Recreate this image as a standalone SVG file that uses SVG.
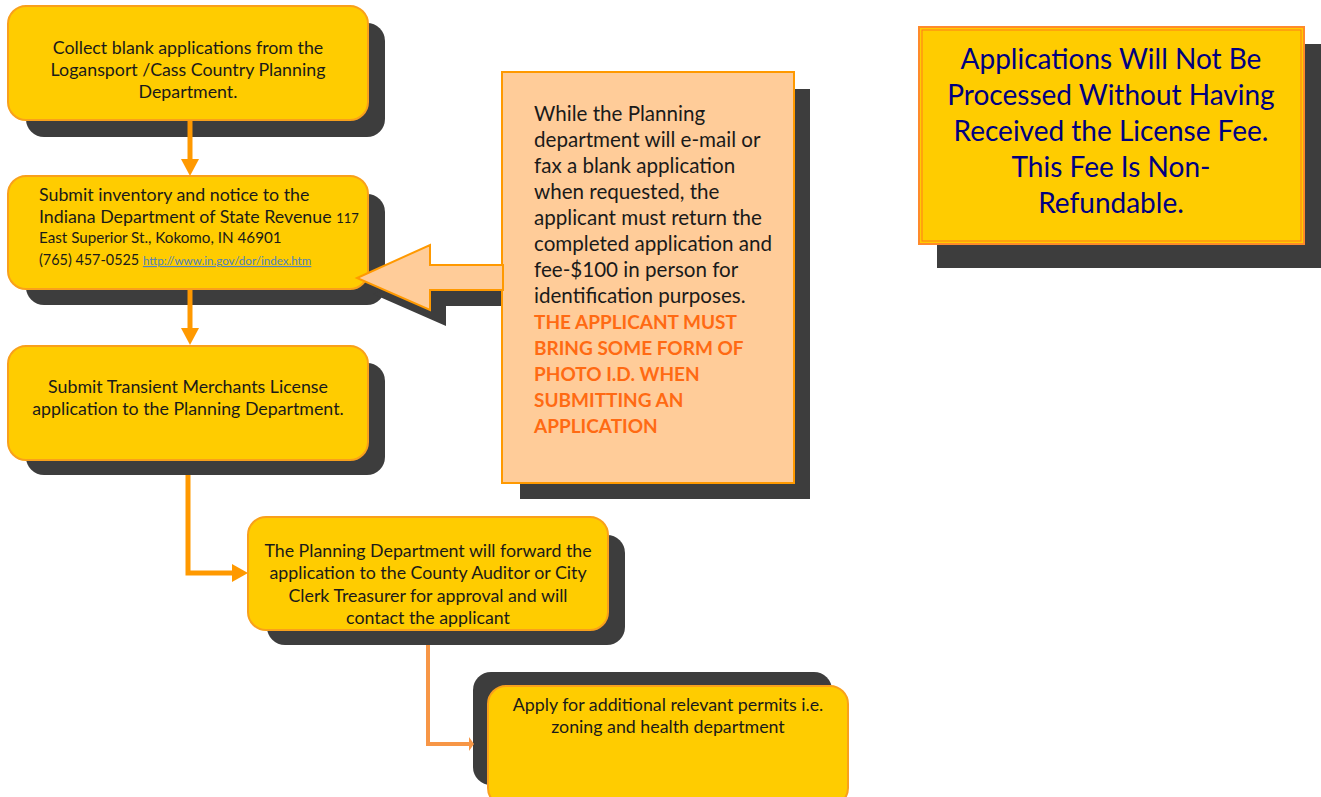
<svg xmlns="http://www.w3.org/2000/svg" width="1321" height="797" viewBox="0 0 1321 797">
<style>
.shadow{fill:#3d3d3d}
.box{fill:#FFCC00;stroke:#F9A01B;stroke-width:2}
.t{font-family:Lato,"Liberation Sans",sans-serif;fill:#1a1a1a}
.c{text-anchor:middle}
.conn{stroke:#FF9900;stroke-width:5;fill:none}
.head{fill:#FF9900}
</style>
<rect width="1321" height="797" fill="#ffffff"/>

<g id="shadows">
<rect class="shadow" x="26" y="23" width="359" height="114" rx="18"/>
<rect class="shadow" x="26" y="194" width="359" height="111" rx="18"/>
<rect class="shadow" x="26" y="363" width="359" height="112" rx="18"/>
<rect class="shadow" x="267" y="535" width="358" height="110" rx="18"/>
<rect class="shadow" x="473" y="672" width="359" height="113" rx="18"/>
<rect class="shadow" x="520" y="89" width="290" height="410"/>
<polygon class="shadow" points="518,281 436,281 436,266 373,294 446,326 446,306 518,306"/>
<rect class="shadow" x="937" y="44" width="384" height="224"/>
</g>

<g id="connectors">
<line class="conn" x1="190" y1="120" x2="190" y2="161"/>
<polygon class="head" points="181,159 199,159 190,176"/>
<line class="conn" x1="190" y1="289" x2="190" y2="330"/>
<polygon class="head" points="181,328 199,328 190,345"/>
<polyline class="conn" points="188,475 188,573 234,573"/>
<polygon class="head" points="232,564 232,582 248,573"/>
<polyline points="428,645 428,744 471,744" fill="none" stroke="#F79646" stroke-width="4"/>
<polygon points="469,737 469,751 474,744" fill="#F79646"/>
</g>

<g id="node1">
<rect class="box" x="8" y="6" width="360" height="114" rx="18"/>
<text class="t c" font-size="17.8" x="188" y="54">Collect blank applications from the</text>
<text class="t c" font-size="17.8" x="188" y="76">Logansport /Cass Country Planning</text>
<text class="t c" font-size="17.8" x="188" y="98">Department.</text>
</g>

<g id="node2">
<rect class="box" x="8" y="176" width="360" height="113" rx="18"/>
<text class="t" font-size="17.8" x="39" y="201">Submit inventory and notice to the</text>
<text class="t" font-size="17.8" x="39" y="223">Indiana Department of State Revenue <tspan font-size="13">117</tspan></text>
<text class="t" font-size="15.2" x="39" y="243">East Superior St., Kokomo, IN 46901</text>
<text class="t" font-size="14.4" x="39" y="265">(765) 457-0525 <tspan font-size="11.6" fill="#4F81BD" text-decoration="underline">http://www.in.gov/dor/index.htm</tspan></text>
</g>

<g id="node3">
<rect class="box" x="8" y="346" width="360" height="114" rx="18"/>
<text class="t c" font-size="17.8" x="188" y="393">Submit Transient Merchants License</text>
<text class="t c" font-size="17.8" x="188" y="415">application to the Planning Department.</text>
</g>

<g id="node4">
<rect class="box" x="248" y="517" width="360" height="113" rx="18"/>
<text class="t c" font-size="17.8" x="428" y="557">The Planning Department will forward the</text>
<text class="t c" font-size="17.8" x="428" y="579">application to the County Auditor or City</text>
<text class="t c" font-size="17.8" x="428" y="602">Clerk Treasurer for approval and will</text>
<text class="t c" font-size="17.8" x="428" y="624">contact the applicant</text>
</g>

<g id="node5">
<rect class="box" x="488" y="686" width="360" height="120" rx="18"/>
<text class="t c" font-size="17.8" x="668" y="711">Apply for additional relevant permits i.e.</text>
<text class="t c" font-size="17.8" x="668" y="733">zoning and health department</text>
</g>

<g id="callout">
<rect x="502" y="72" width="292" height="411" fill="#FFCC99" stroke="#FF9900" stroke-width="2"/>
<polygon points="503,265 430,265 430,245 357,278 430,310 430,290 503,290" fill="#FFCC99" stroke="#FF9900" stroke-width="2"/>
<g class="t" font-size="20.6">
<text x="534" y="121">While the Planning</text>
<text x="534" y="147">department will e-mail or</text>
<text x="534" y="173">fax a blank application</text>
<text x="534" y="199">when requested, the</text>
<text x="534" y="225">applicant must return the</text>
<text x="534" y="251">completed application and</text>
<text x="534" y="277">fee-$100 in person for</text>
<text x="534" y="303">identification purposes.</text>
</g>
<g font-family="Lato,'Liberation Sans',sans-serif" font-size="19" font-weight="bold" fill="#FF6A13">
<text x="534" y="329">THE APPLICANT MUST</text>
<text x="534" y="355">BRING SOME FORM OF</text>
<text x="534" y="381">PHOTO I.D. WHEN</text>
<text x="534" y="407">SUBMITTING AN</text>
<text x="534" y="433">APPLICATION</text>
</g>
</g>

<g id="notice">
<rect x="919" y="27" width="385" height="217" fill="#FFCC00" stroke="#FF8A2A" stroke-width="2"/>
<rect x="922" y="30" width="379" height="211" fill="none" stroke="#FF7A1A" stroke-width="1"/>
<g font-family="Lato,'Liberation Sans',sans-serif" font-size="28" fill="#000080" text-anchor="middle">
<text x="1111" y="69">Applications Will Not Be</text>
<text x="1111" y="105">Processed Without Having</text>
<text x="1111" y="141">Received the License Fee.</text>
<text x="1111" y="177">This Fee Is Non-</text>
<text x="1111" y="213">Refundable.</text>
</g>
</g>
</svg>
